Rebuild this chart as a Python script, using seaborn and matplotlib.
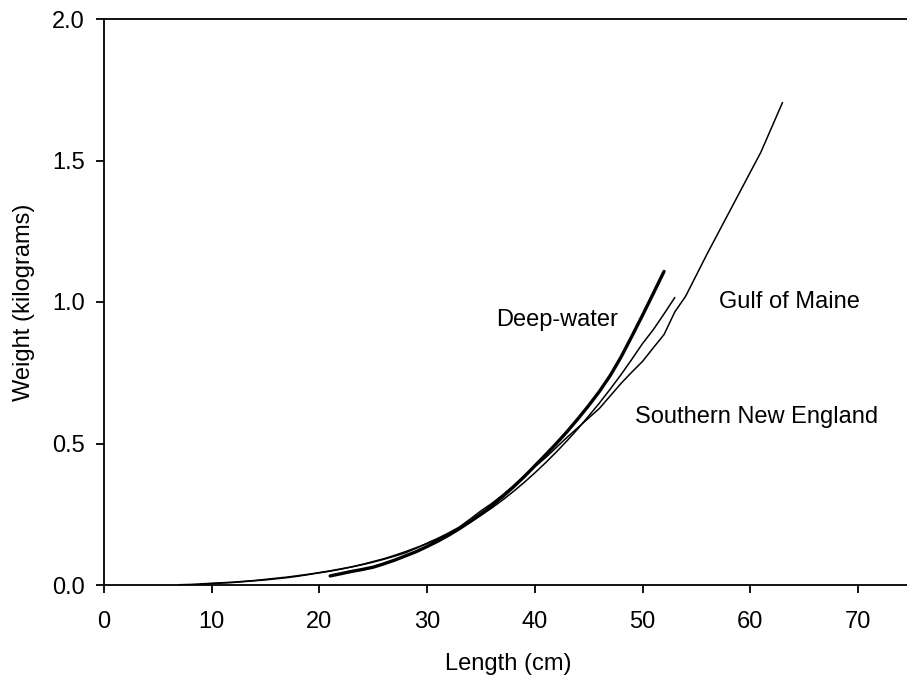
import matplotlib
matplotlib.use("Agg")
import matplotlib.pyplot as plt
import seaborn as sns
import pandas as pd

# Gulf of Maine (thin)
gom_len = [7, 8, 9, 10, 11, 12, 13, 14, 15, 16, 17, 18, 19, 20, 21, 22, 23, 24, 25, 26,
           27, 28, 29, 30, 31, 32, 33, 34, 35, 36, 37, 38, 39, 40, 41, 42, 43, 44, 45, 46,
           47, 48, 49, 50, 51, 52, 53, 54, 56, 61, 63]
gom_wt = [0.001, 0.002, 0.004, 0.006, 0.008, 0.010, 0.013, 0.016, 0.020, 0.024, 0.028,
          0.033, 0.038, 0.044, 0.050, 0.057, 0.064, 0.072, 0.081, 0.091, 0.102, 0.114,
          0.130, 0.148, 0.165, 0.184, 0.205, 0.233, 0.262, 0.288, 0.318, 0.350, 0.385,
          0.418, 0.450, 0.486, 0.522, 0.556, 0.590, 0.624, 0.668, 0.712, 0.752, 0.790,
          0.838, 0.885, 0.965, 1.020, 1.170, 1.530, 1.705]

# Southern New England (thin)
sne_len = [9, 10, 11, 12, 13, 14, 15, 16, 17, 18, 19, 20, 21, 22, 23, 24, 25, 26, 27, 28,
           29, 30, 31, 32, 33, 34, 35, 36, 37, 38, 39, 40, 41, 42, 43, 44, 45, 46, 47, 48,
           49, 50, 51, 52, 53]
sne_wt = [0.003, 0.005, 0.007, 0.009, 0.012, 0.015, 0.018, 0.022, 0.026, 0.031, 0.037,
          0.043, 0.049, 0.056, 0.064, 0.073, 0.083, 0.093, 0.105, 0.118, 0.132, 0.146,
          0.162, 0.180, 0.200, 0.222, 0.246, 0.272, 0.300, 0.330, 0.362, 0.396, 0.432,
          0.470, 0.510, 0.552, 0.597, 0.643, 0.692, 0.743, 0.797, 0.853, 0.902, 0.958,
          1.016]

# Deep-water (thick)
deep_len = [21, 22, 23, 24, 25, 26, 27, 28, 29, 30, 31, 32, 33, 34, 35, 36, 37, 38, 39,
            40, 41, 42, 43, 44, 45, 46, 47, 48, 49, 50, 51, 52]
deep_wt = [0.032, 0.040, 0.048, 0.055, 0.063, 0.075, 0.088, 0.103, 0.118, 0.136, 0.155,
           0.176, 0.199, 0.224, 0.251, 0.280, 0.312, 0.346, 0.382, 0.421, 0.460, 0.500,
           0.542, 0.587, 0.634, 0.684, 0.740, 0.805, 0.878, 0.953, 1.030, 1.108]

x_ticks = [0, 10, 20, 30, 40, 50, 60, 70]
y_ticks = [0.0, 0.5, 1.0, 1.5, 2.0]
y_tick_labels = ["0.0", "0.5", "1.0", "1.5", "2.0"]

sns.set_theme(style="white")
plt.rcParams["font.family"] = ["Liberation Sans", "DejaVu Sans"]

W, H = 907, 681
fig = plt.figure(figsize=(W / 100, H / 100), dpi=100)
left, bottom, top = 104 / W, 1 - 585 / H, 1 - 19 / H
x_per = 10.77
right_px = 104 + 75 * x_per
ax = fig.add_axes([left, bottom, (right_px - 104) / W, top - bottom])

df_gom = pd.DataFrame({"Length": gom_len, "Weight": gom_wt})
df_sne = pd.DataFrame({"Length": sne_len, "Weight": sne_wt})
df_deep = pd.DataFrame({"Length": deep_len, "Weight": deep_wt})

sns.lineplot(data=df_gom, x="Length", y="Weight", ax=ax, color="black", linewidth=1.1,
             estimator=None, sort=False)
sns.lineplot(data=df_sne, x="Length", y="Weight", ax=ax, color="black", linewidth=1.1,
             estimator=None, sort=False)
sns.lineplot(data=df_deep, x="Length", y="Weight", ax=ax, color="black", linewidth=2.4,
             estimator=None, sort=False, solid_capstyle="round")

ax.set_xlim(0, 75)
ax.set_ylim(0, 2.0)
ax.set_xticks(x_ticks)
ax.set_yticks(y_ticks)
ax.set_yticklabels(y_tick_labels)

for s in ["left", "bottom", "top"]:
    ax.spines[s].set_visible(True)
    ax.spines[s].set_color("black")
    ax.spines[s].set_linewidth(1.3)
ax.spines["right"].set_visible(False)

ax.tick_params(axis="both", which="major", direction="out", length=6, width=1.3,
               color="black", labelsize=17, labelcolor="black",
               bottom=True, left=True, top=False, right=False)
ax.tick_params(axis="x", pad=13)
ax.tick_params(axis="y", pad=8)

ax.set_xlabel("Length (cm)", fontsize=17, color="black", labelpad=14)
ax.set_ylabel("Weight (kilograms)", fontsize=17, color="black", labelpad=12)

ax.text(42.1, 0.935, "Deep-water", fontsize=17, ha="center", va="center", color="black")
ax.text(63.6, 1.0, "Gulf of Maine", fontsize=17, ha="center", va="center", color="black")
ax.text(60.6, 0.593, "Southern New England", fontsize=17, ha="center", va="center",
        color="black")

ax.grid(False)
fig.savefig("out.png", dpi=100, facecolor="white")
